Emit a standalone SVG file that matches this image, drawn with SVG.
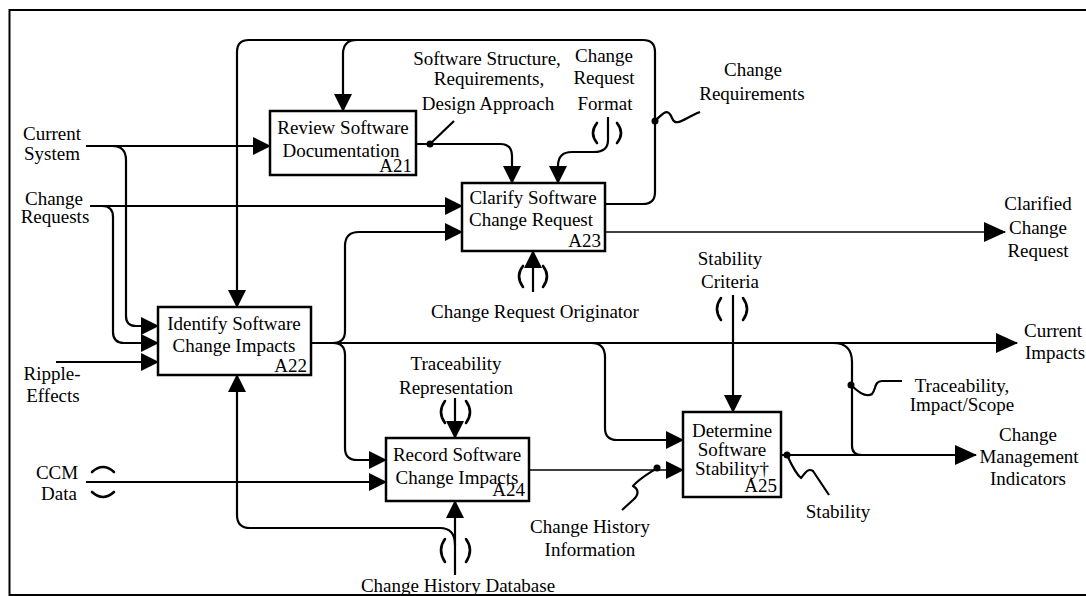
<svg xmlns="http://www.w3.org/2000/svg" width="1086" height="596" viewBox="0 0 1086 596">
<style>
text{font-family:"Liberation Serif","Times New Roman",serif;font-size:19px;fill:#000}
.c{text-anchor:middle}
.r{text-anchor:end}
.box{fill:#fff;stroke:#000;stroke-width:2.5}
.ln{fill:none;stroke:#000;stroke-width:2.2}
.th{fill:none;stroke:#000;stroke-width:1.6}
.sq{fill:none;stroke:#000;stroke-width:2.2;stroke-linejoin:round}
.par{fill:none;stroke:#000;stroke-width:2.6;stroke-linecap:round}
</style>
<defs>
<marker id="ah" viewBox="0 0 18 18" refX="17" refY="9" markerWidth="18" markerHeight="18" markerUnits="userSpaceOnUse" orient="auto"><path d="M0,0 L18,9 L0,18 z" fill="#000"/></marker>
<marker id="ahb" viewBox="0 0 22 20" refX="21" refY="10" markerWidth="22" markerHeight="20" markerUnits="userSpaceOnUse" orient="auto"><path d="M0,0 L22,10 L0,20 z" fill="#000"/></marker>
</defs>
<rect x="0" y="0" width="1086" height="596" fill="#fff"/>
<rect x="9.5" y="10" width="1100" height="585" fill="none" stroke="#000" stroke-width="2"/>

<g id="connectors">
<!-- Current System -->
<path class="ln" d="M86,146 H270" marker-end="url(#ah)"/>
<path class="ln" d="M112,146 Q126,146 126,160 V316 Q126,326 136,326 H158" marker-end="url(#ah)"/>
<!-- Change Requests -->
<path class="ln" d="M90,206 H462" marker-end="url(#ah)"/>
<path class="ln" d="M102,206 Q113,206 113,217 V332 Q113,343 124,343 H158" marker-end="url(#ah)"/>
<!-- Ripple-Effects -->
<path class="ln" d="M56,362 H158" marker-end="url(#ah)"/>
<!-- Change Requirements loop -->
<path class="ln" d="M605,204 H643 Q655,204 655,192 V52 Q655,40 643,40 H249 Q237,40 237,52 V307" marker-end="url(#ah)"/>
<path class="ln" d="M357,40 Q343,40 343,54 V111" marker-end="url(#ah)"/>
<circle cx="655" cy="121" r="3.5"/>
<path class="sq" d="M655,121 C664,112 668,108 672,118 C676,128 684,118 700,112"/>
<!-- A21 output -->
<path class="ln" d="M416,144 H500 Q512,144 512,156 V183" marker-end="url(#ah)"/>
<circle cx="430" cy="144" r="3.5"/>
<path class="ln" d="M430,144 L454,121"/>
<!-- Change Request Format -->
<path class="ln" d="M608,117 V140 Q608,152 594,152 H572 Q558,152 558,166 V183" marker-end="url(#ah)"/>
<path class="par" d="M597,123 Q589,133 597,143"/>
<path class="par" d="M617,123 Q625,133 617,143"/>
<!-- Change Request Originator -->
<path class="ln" d="M533,292 V251" marker-end="url(#ah)"/>
<path class="par" d="M523,266 Q515,276 523,287"/>
<path class="par" d="M543,266 Q551,276 543,287"/>
<!-- Clarified Change Request -->
<path class="th" d="M605,232 H1005" marker-end="url(#ahb)"/>
<!-- A22 output -->
<path class="ln" d="M311,343 H1017" marker-end="url(#ahb)"/>
<path class="ln" d="M333,343 Q345,343 345,331 V246 Q345,232 359,232 H462" marker-end="url(#ah)"/>
<path class="ln" d="M333,343 Q345,343 345,355 V448 Q345,460 357,460 H386" marker-end="url(#ah)"/>
<path class="ln" d="M591,343 Q605,343 605,357 V428 Q605,440 617,440 H683" marker-end="url(#ah)"/>
<path class="ln" d="M833,343 Q852,343 852,362 V446 Q852,455 862,455"/>
<circle cx="851" cy="385" r="3.5"/>
<path class="sq" d="M851,385 C858,392 866,398 872,394 C876,390 874,381 882,381 H902"/>
<!-- Stability Criteria -->
<path class="ln" d="M733,295 V412" marker-end="url(#ah)"/>
<path class="par" d="M721,298 Q713,309 721,320"/>
<path class="par" d="M743,298 Q751,309 743,320"/>
<!-- A25 output -->
<path class="ln" d="M781,455 H976" marker-end="url(#ahb)"/>
<circle cx="787" cy="455" r="3.5"/>
<path class="sq" d="M787,455 C792,466 796,474 801,478 C806,472 808,468 813,471 L829,495"/>
<!-- A24 output -->
<path class="th" d="M529,470 H683" marker-end="url(#ah)"/>
<circle cx="657" cy="468" r="3.5"/>
<path class="sq" d="M657,468 C648,474 640,478 633,486 C640,490 638,496 633,500 L622,510"/>
<!-- Traceability Representation -->
<path class="ln" d="M455,398 V438" marker-end="url(#ah)"/>
<path class="par" d="M445,401 Q437,412 445,423"/>
<path class="par" d="M466,401 Q474,412 466,423"/>
<!-- CCM Data -->
<path class="ln" d="M86,482 H386" marker-end="url(#ah)"/>
<path class="par" d="M92,472 Q103,462 114,472"/>
<path class="par" d="M92,492 Q103,502 114,492"/>
<!-- Change History Database -->
<path class="ln" d="M455,575 V501" marker-end="url(#ah)"/>
<path class="ln" d="M455,545 Q455,528 440,528 H250 Q237,528 237,515 V375" marker-end="url(#ah)"/>
<path class="par" d="M445,539 Q437,550 445,562"/>
<path class="par" d="M466,539 Q474,550 466,562"/>
</g>

<g id="A21">
<rect class="box" x="270" y="111" width="146" height="64"/>
<text class="c" x="343" y="134">Review Software</text>
<text class="c" x="341" y="157">Documentation</text>
<text class="r" x="412" y="172">A21</text>
</g>
<g id="A23">
<rect class="box" x="462" y="183" width="143" height="68"/>
<text class="c" x="533" y="204">Clarify Software</text>
<text class="c" x="531" y="226">Change Request</text>
<text class="r" x="601" y="247">A23</text>
</g>
<g id="A22">
<rect class="box" x="158" y="307" width="153" height="68"/>
<text class="c" x="234" y="330">Identify Software</text>
<text class="c" x="234" y="352">Change Impacts</text>
<text class="r" x="307" y="372">A22</text>
</g>
<g id="A24">
<rect class="box" x="386" y="438" width="143" height="63"/>
<text class="c" x="457" y="461">Record Software</text>
<text class="c" x="457" y="484">Change Impacts</text>
<text class="r" x="525" y="496">A24</text>
</g>
<g id="A25">
<rect class="box" x="683" y="412" width="98" height="85"/>
<text class="c" x="732" y="437">Determine</text>
<text class="c" x="732" y="456">Software</text>
<text class="c" x="732" y="475">Stability†</text>
<text class="r" x="777" y="492">A25</text>
</g>

<g id="labels">
<text class="c" x="52" y="140">Current</text>
<text class="c" x="52" y="160">System</text>
<text class="c" x="54" y="205">Change</text>
<text class="c" x="55" y="223">Requests</text>
<text class="c" x="52" y="380">Ripple-</text>
<text class="c" x="53" y="402">Effects</text>
<text class="c" x="57" y="479">CCM</text>
<text class="c" x="59" y="500">Data</text>
<text class="c" x="487" y="65">Software Structure,</text>
<text class="c" x="489" y="85">Requirements,</text>
<text class="c" x="488" y="110">Design Approach</text>
<text class="c" x="604" y="62">Change</text>
<text class="c" x="604" y="84">Request</text>
<text class="c" x="605" y="110">Format</text>
<text class="c" x="753" y="76">Change</text>
<text class="c" x="752" y="100">Requirements</text>
<text class="c" x="1038" y="210">Clarified</text>
<text class="c" x="1038" y="234">Change</text>
<text class="c" x="1038" y="257">Request</text>
<text class="c" x="535" y="318">Change Request Originator</text>
<text class="c" x="730" y="265">Stability</text>
<text class="c" x="730" y="288">Criteria</text>
<text class="c" x="1053" y="337">Current</text>
<text class="c" x="1055" y="359">Impacts</text>
<text class="c" x="962" y="392">Traceability,</text>
<text class="c" x="962" y="411">Impact/Scope</text>
<text class="c" x="456" y="370">Traceability</text>
<text class="c" x="456" y="394">Representation</text>
<text class="c" x="1028" y="441">Change</text>
<text class="c" x="1029" y="463">Management</text>
<text class="c" x="1028" y="485">Indicators</text>
<text class="c" x="838" y="518">Stability</text>
<text class="c" x="590" y="533">Change History</text>
<text class="c" x="590" y="556">Information</text>
<text class="c" x="458" y="592">Change History Database</text>
</g>
</svg>
